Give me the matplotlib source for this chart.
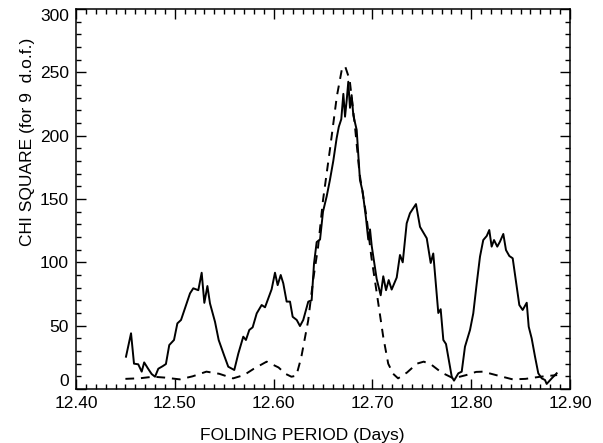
import numpy as np
import matplotlib
matplotlib.use('Agg')
import matplotlib.pyplot as plt
from matplotlib.ticker import MultipleLocator

plt.rcParams['font.family'] = ['Liberation Sans', 'DejaVu Sans']

# chi square of the data, folded at trial periods
period_obs = [12.4506, 12.4557, 12.4587, 12.4630, 12.4665, 12.4690, 12.4730, 12.4766,
              12.4800, 12.4833, 12.4877, 12.4910, 12.4944, 12.4992, 12.5026, 12.5063,
              12.5103, 12.5154, 12.5187, 12.5238, 12.5272, 12.5299, 12.5330, 12.5356,
              12.5407, 12.5444, 12.5498, 12.5541, 12.5602, 12.5643, 12.5693, 12.5720,
              12.5754, 12.5788, 12.5829, 12.5879, 12.5913, 12.5946, 12.5980, 12.6014,
              12.6041, 12.6072, 12.6098, 12.6132, 12.6166, 12.6193, 12.6234, 12.6267,
              12.6300, 12.6351, 12.6385, 12.6409, 12.6436, 12.6470, 12.6500, 12.6537,
              12.6570, 12.6604, 12.6638, 12.6660, 12.6685, 12.6706, 12.6723, 12.6740,
              12.6756, 12.6773, 12.6790, 12.6807, 12.6841, 12.6874, 12.6901, 12.6935,
              12.6958, 12.6976, 12.6993, 12.7043, 12.7084, 12.7110, 12.7138, 12.7165,
              12.7195, 12.7246, 12.7279, 12.7307, 12.7347, 12.7380, 12.7441, 12.7482,
              12.7550, 12.7590, 12.7616, 12.7667, 12.7691, 12.7718, 12.7745, 12.7803,
              12.7826, 12.7870, 12.7904, 12.7937, 12.7988, 12.8021, 12.8056, 12.8089,
              12.8122, 12.8157, 12.8183, 12.8207, 12.8231, 12.8264, 12.8291, 12.8325,
              12.8352, 12.8386, 12.8420, 12.8460, 12.8487, 12.8521, 12.8562, 12.8582,
              12.8612, 12.8646, 12.8679, 12.8714, 12.8747, 12.8764, 12.8815, 12.8865]
chi_obs = [25.5, 44, 20, 19.5, 13.7, 21, 16, 11.8,
           9.7, 16, 18, 19.7, 34.7, 38.7, 51.8, 54.5,
           63.7, 75.5, 79.5, 78, 91.8, 68, 81.3, 67.6,
           53, 38.7, 26.8, 17.6, 15, 28, 41.3, 38.7,
           46.6, 48.7, 59.7, 66.3, 64.5, 71.6, 78.7, 91.8,
           82, 90, 83.4, 69, 69, 57, 54.5, 49.7,
           54.5, 69, 70, 99, 116, 118, 140, 152,
           165, 180, 198, 207, 213, 233, 215, 228,
           242.6, 222, 232, 216, 204.5, 165, 156, 135,
           118, 126, 113, 87, 74, 89, 78, 86,
           78.5, 88, 105.8, 100, 130.8, 138.7, 146, 128,
           119, 99.5, 107, 60, 63, 38.7, 35.5, 9.7,
           6.6, 12.4, 13.7, 33.4, 46.6, 59.7, 83.4, 104.5,
           117.6, 120.8, 125.5, 112.4, 117.6, 112.4, 116.3, 122.4,
           109.7, 105, 103.2, 80.8, 66.3, 62.4, 68.1, 49.2,
           40, 25.5, 12.4, 8.4, 7.1, 4, 8.4, 12.4]

# expected chi square for the model
period_mod = [12.450, 12.465, 12.478, 12.490, 12.505, 12.518, 12.532, 12.545, 12.559,
              12.570, 12.580, 12.593, 12.605, 12.612, 12.618, 12.623, 12.628, 12.635,
              12.640, 12.645, 12.650, 12.657, 12.664, 12.669, 12.6723, 12.677, 12.682,
              12.687, 12.694, 12.699, 12.704, 12.711, 12.716, 12.721, 12.726, 12.735,
              12.745, 12.752, 12.760, 12.770, 12.782, 12.795, 12.805, 12.812, 12.825,
              12.842, 12.855, 12.870, 12.887]
chi_mod = [8, 8.5, 9.7, 9, 7.6, 10, 13.7, 12, 8.4,
           11, 16, 21.6, 17, 12, 9.7, 10.5, 25, 54,
           86, 112, 149, 189, 231, 252, 255, 244, 210,
           170, 136, 104, 78, 41, 20, 12, 8.4, 13,
           20, 21.6, 19, 13, 8.4, 11, 13.5, 13.7, 11,
           7.6, 8, 9.7, 11]

fig = plt.figure(figsize=(6.03, 4.43), dpi=100)
ax = fig.add_axes([76 / 603, 1 - 389 / 443, 494 / 603, 380 / 443])

ax.plot(period_obs, chi_obs, color='black', lw=1.4)
ax.plot(period_mod, chi_mod, color='black', lw=1.4, linestyle=(0, (4.5, 3.5)))

ax.set_xlim(12.40, 12.90)
ax.set_ylim(0, 300)
ax.xaxis.set_major_locator(MultipleLocator(0.1))
ax.xaxis.set_minor_locator(MultipleLocator(0.01))
ax.yaxis.set_major_locator(MultipleLocator(50))
ax.yaxis.set_minor_locator(MultipleLocator(10))
ax.xaxis.set_major_formatter(plt.FuncFormatter(lambda v, p: f'{v:.2f}'))

ax.tick_params(which='both', direction='in', top=True, right=True,
               labelsize=12.5, width=1.0)
ax.tick_params(which='major', length=7, pad=5)
ax.tick_params(which='minor', length=3.5)
for s in ax.spines.values():
    s.set_linewidth(1.1)

ax.set_xlabel('FOLDING PERIOD (Days)', fontsize=12.5)
ax.xaxis.set_label_coords((302 - 76) / 494, -0.102)
ax.set_ylabel('CHI SQUARE (for 9  d.o.f.)', fontsize=12.5)
ax.yaxis.set_label_coords(-0.083, (389 - 142) / 380)

# end labels sit inside the axis range, like the original
fig.canvas.draw()
for t in ax.yaxis.get_major_ticks():
    if abs(t.get_loc() - 0) < 1e-6:
        t.label1.set_va('bottom')
    elif abs(t.get_loc() - 300) < 1e-6:
        t.label1.set_va('top')

fig.savefig('out.png', dpi=100)
